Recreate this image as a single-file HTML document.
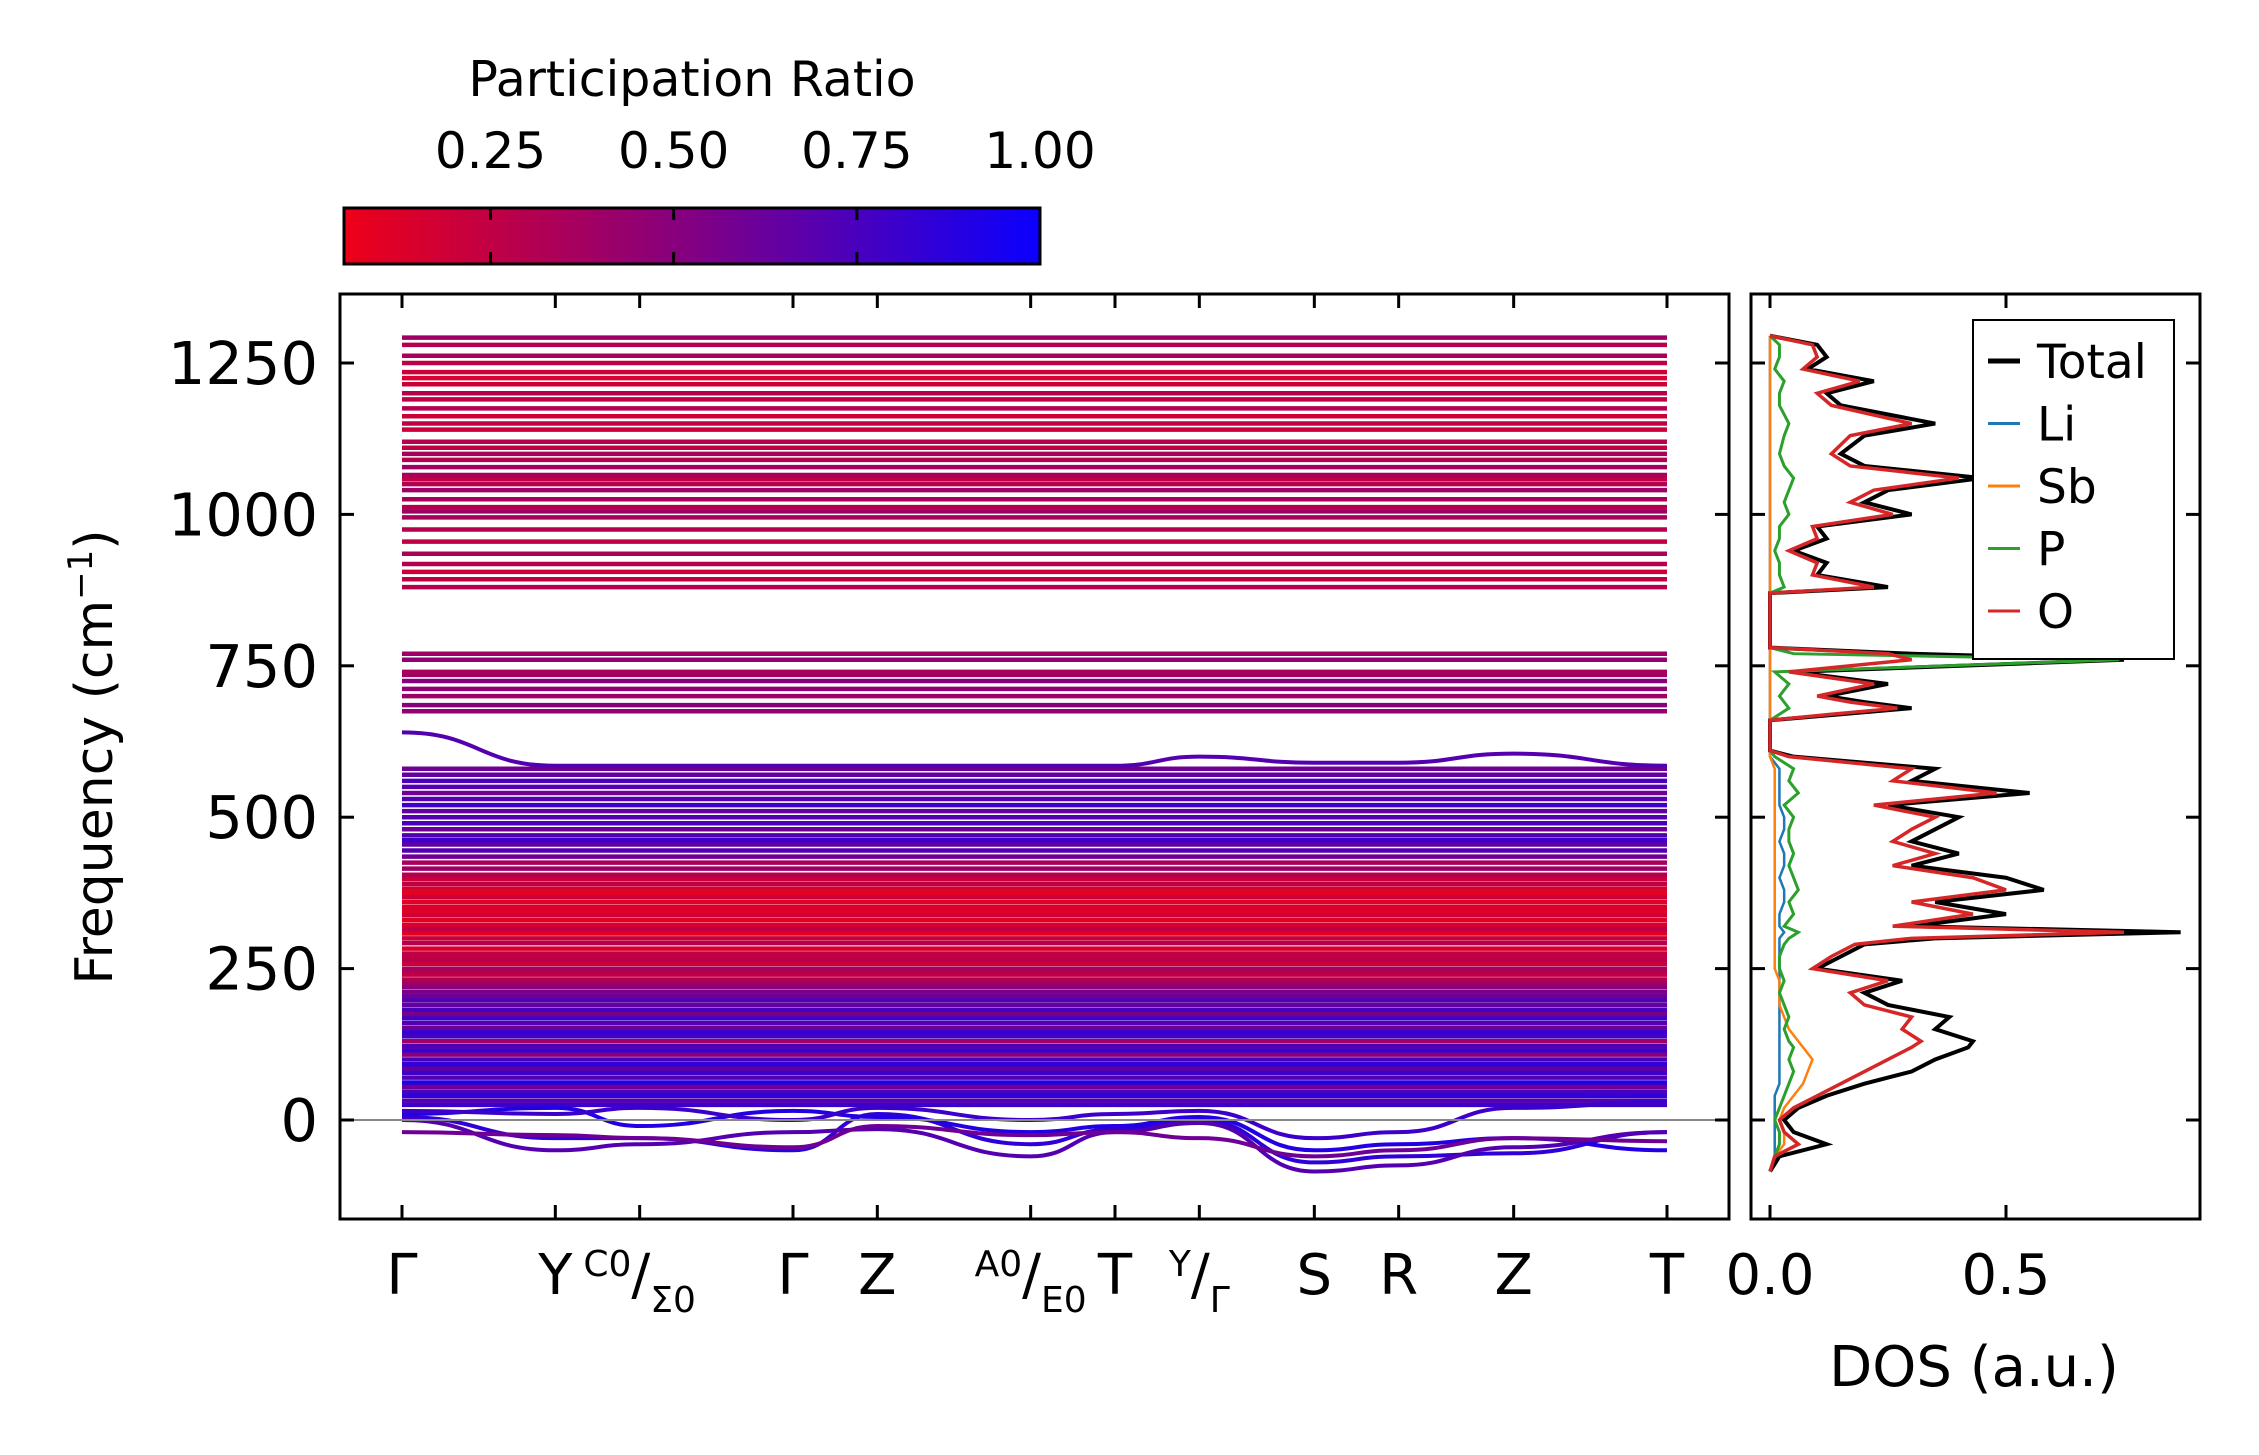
<!DOCTYPE html>
<html><head><meta charset="utf-8"><style>
html,body{margin:0;padding:0;background:#fff}
svg{display:block;font-family:"DejaVu Sans","Liberation Sans",sans-serif}
</style></head><body>
<svg id="fig" width="2259" height="1455" viewBox="0 0 2259 1455" xmlns="http://www.w3.org/2000/svg">
<defs>
<linearGradient id="cbar" x1="0" x2="1" y1="0" y2="0">
<stop offset="0" stop-color="rgb(238,0,24)"/><stop offset="0.5" stop-color="rgb(130,0,130)"/><stop offset="1" stop-color="rgb(10,0,255)"/>
</linearGradient>
<clipPath id="clipMain"><rect x="340" y="294" width="1389" height="925"/></clipPath>
<clipPath id="clipDos"><rect x="1751" y="294" width="449" height="925"/></clipPath>
</defs>
<g id="colorbar">
<text x="692" y="96" font-size="49" text-anchor="middle">Participation Ratio</text>
<rect x="344" y="208" width="696" height="56" fill="url(#cbar)" stroke="#000" stroke-width="3"/>
</g>
<g id="bands" clip-path="url(#clipMain)"></g>
<g id="mainAxes"></g>
<g id="dos" clip-path="url(#clipDos)"></g>
<g id="dosAxes"></g>
<text transform="translate(112,757) rotate(-90)" font-size="52" text-anchor="middle">Frequency (cm<tspan font-size="34" dy="-20">−1</tspan><tspan dy="20">)</tspan></text>
<text x="1974" y="1386" font-size="56" text-anchor="middle">DOS (a.u.)</text>
</svg>
<script>
// ---- data ----
const kLabels = ["Γ","Y","C0/Σ0","Γ","Z","A0/E0","T","Y/Γ","S","R","Z","T"];
const kPos = [0,1,1.55,2.55,3.1,4.1,4.65,5.2,5.95,6.5,7.25,8.25];
const yTicks = [0,250,500,750,1000,1250];
const cbTicks = [0.25,0.5,0.75,1.0];
const highLevels = [880,893,905,918,935,955,975,995,1005,1012,1025,1040,1050,1058,1065,1078,1090,1100,1110,1120,1140,1150,1162,1175,1190,1200,1215,1225,1235,1250,1262,1280,1292];
const highPR = [0.3,0.25,0.2,0.3,0.35,0.25,0.3,0.35,0.4,0.3,0.35,0.4,0.3,0.25,0.35,0.4,0.3,0.35,0.25,0.3,0.2,0.25,0.2,0.3,0.25,0.3,0.2,0.15,0.2,0.25,0.35,0.3,0.4];
const midLevels = [675,685,700,712,725,735,740,760,770];
const midPR = [0.45,0.5,0.4,0.45,0.5,0.4,0.35,0.45,0.4];
const lowLevels = [25,32,40,47,55,62,70,78,85,92,100,108,115,122,130,138,145,152,160,168,175,182,190,198,205,212,220,226,232,240,246,250,258,265,270,275,283,292,300,308,315,322,330,338,345,352,360,368,375,382,390,398,405,415,425,435,445,455,462,470,480,490,500,510,520,530,540,550,560,570,580];
const lowPR = [0.8,0.7,0.85,0.75,0.6,0.9,0.7,0.8,0.65,0.85,0.75,0.5,0.8,0.7,0.4,0.75,0.85,0.6,0.7,0.8,0.55,0.75,0.65,0.7,0.6,0.55,0.5,0.4,0.3,0.25,0.3,0.35,0.2,0.3,0.25,0.25,0.15,0.3,0.2,0.1,0.25,0.15,0.1,0.2,0.1,0.15,0.1,0.2,0.1,0.15,0.25,0.2,0.3,0.4,0.35,0.6,0.7,0.65,0.8,0.7,0.6,0.75,0.7,0.65,0.8,0.7,0.6,0.7,0.75,0.65,0.6];
const negCurves = [
 [5,-30,-30,-50,10,-40,-15,0,-70,-60,-55,-20],
 [10,20,-10,15,5,-20,-10,5,-50,-40,-30,-50],
 [0,-50,-40,-20,-15,-60,-20,-5,-85,-75,-45,-20],
 [15,10,20,0,20,0,10,15,-30,-20,20,30],
 [-20,-25,-30,-45,-10,-25,-20,-30,-60,-50,-30,-35],
 [640,585,585,585,585,585,585,600,590,590,605,585]
];
const negPR = [0.85,0.9,0.7,0.8,0.6,0.7];
const dosFreq = [-85,-60,-40,-20,0,20,40,60,80,100,120,130,150,170,190,210,230,250,270,290,300,310,320,340,360,380,400,420,440,460,480,500,520,540,560,580,600,610,660,670,680,690,700,720,740,760,770,780,870,880,900,920,940,960,980,1000,1020,1040,1060,1080,1100,1130,1150,1180,1200,1220,1240,1260,1280,1295];
const dosTotal = [0,0.02,0.12,0.05,0.03,0.06,0.12,0.2,0.3,0.35,0.42,0.43,0.35,0.38,0.25,0.2,0.28,0.1,0.15,0.2,0.35,0.87,0.3,0.5,0.35,0.58,0.5,0.3,0.4,0.3,0.35,0.4,0.25,0.55,0.3,0.35,0.05,0,0,0.15,0.3,0.2,0.12,0.25,0.05,0.75,0.3,0,0,0.25,0.1,0.12,0.05,0.12,0.1,0.3,0.2,0.25,0.45,0.2,0.15,0.2,0.35,0.15,0.12,0.22,0.08,0.12,0.1,0];
const dosO = [0,0.01,0.06,0.03,0.02,0.05,0.1,0.15,0.2,0.25,0.3,0.32,0.28,0.3,0.2,0.17,0.25,0.09,0.13,0.18,0.3,0.75,0.26,0.43,0.3,0.5,0.43,0.26,0.35,0.26,0.3,0.35,0.22,0.48,0.26,0.3,0.04,0,0,0.13,0.27,0.17,0.1,0.22,0.04,0.3,0.25,0,0,0.22,0.09,0.1,0.04,0.1,0.09,0.26,0.17,0.22,0.4,0.17,0.13,0.17,0.3,0.13,0.1,0.19,0.07,0.1,0.09,0];
const dosP = [0,0.01,0.02,0.02,0.01,0.02,0.03,0.04,0.05,0.04,0.05,0.04,0.03,0.04,0.03,0.02,0.03,0.02,0.02,0.03,0.04,0.06,0.03,0.05,0.04,0.06,0.05,0.04,0.05,0.04,0.04,0.05,0.03,0.06,0.04,0.05,0.01,0,0,0.02,0.04,0.03,0.02,0.04,0.01,0.74,0.05,0,0,0.03,0.02,0.02,0.01,0.02,0.02,0.04,0.03,0.04,0.05,0.03,0.02,0.03,0.04,0.02,0.02,0.03,0.01,0.02,0.02,0];
const dosSb = [0,0.01,0.03,0.03,0.02,0.03,0.05,0.07,0.08,0.09,0.07,0.06,0.04,0.03,0.02,0.02,0.02,0.01,0.01,0.01,0.01,0.01,0.01,0.01,0.01,0.01,0.01,0.01,0.01,0.01,0.01,0.01,0.01,0.01,0.01,0.01,0,0,0,0,0,0,0,0,0,0,0,0,0,0,0,0,0,0,0,0,0,0,0,0,0,0,0,0,0,0,0,0,0,0];
const dosLi = [0,0.01,0.01,0.01,0.01,0.01,0.01,0.02,0.02,0.02,0.02,0.02,0.02,0.02,0.02,0.02,0.02,0.02,0.02,0.02,0.02,0.03,0.02,0.02,0.03,0.03,0.02,0.03,0.03,0.02,0.03,0.03,0.02,0.02,0.02,0.02,0,0,0,0,0,0,0,0,0,0,0,0,0,0,0,0,0,0,0,0,0,0,0,0,0,0,0,0,0,0,0,0,0,0];
const legendNames = ["Total","Li","Sb","P","O"];

// ---- scales ----
const NS="http://www.w3.org/2000/svg";
const X0=402,X1=1667, Y_TOP=294, Y_BOT=1219, AX_L=340, AX_R=1729;
const D_L=1751, D_R=2200;
function xk(k){return X0+(k/kPos[kPos.length-1])*(X1-X0);}
function yf(f){return 1120-f*0.6056;}
function xd(d){return 1770+d*472;}
function prColor(p){
  const t=Math.max(0,Math.min(1,(p-0.05)/0.95));
  let r,g,b;
  if(t<0.5){const s=t/0.5;r=238+(130-238)*s;g=0;b=24+(130-24)*s;}
  else{const s=(t-0.5)/0.5;r=130+(10-130)*s;g=0;b=130+(255-130)*s;}
  return `rgb(${r|0},${g|0},${b|0})`;
}
function el(tag,attrs,parent){const e=document.createElementNS(NS,tag);for(const k in attrs)e.setAttribute(k,attrs[k]);parent.appendChild(e);return e;}

const bands=document.getElementById('bands');
function flatBand(level,pr){
  const l=el('line',{x1:X0,x2:X1,y1:yf(level),y2:yf(level),stroke:prColor(pr),'stroke-width':4.5},bands);
  
  
}
highLevels.forEach((v,i)=>flatBand(v,highPR[i]));
midLevels.forEach((v,i)=>flatBand(v,midPR[i]));
lowLevels.forEach((v,i)=>flatBand(v,lowPR[i]));
negCurves.forEach((c,i)=>{
  let d='';
  for(let j=0;j<c.length;j++){
    const x=xk(kPos[j]),y=yf(c[j]);
    if(j===0)d+=`M${x},${y}`;
    else{const xp=xk(kPos[j-1]),yp=yf(c[j-1]);const mx=(xp+x)/2;d+=` C${mx},${yp} ${mx},${y} ${x},${y}`;}
  }
  const p=el('path',{d:d,fill:'none',stroke:prColor(negPR[i]),'stroke-width':4},bands);
  
  
});
const ma=document.getElementById('mainAxes');
const zl=el('line',{x1:AX_L,x2:AX_R,y1:yf(0),y2:yf(0),stroke:'#888','stroke-width':2},ma);



const frame=el('rect',{x:AX_L,y:Y_TOP,width:AX_R-AX_L,height:Y_BOT-Y_TOP,fill:'none',stroke:'#000','stroke-width':3},ma);


yTicks.forEach(v=>{
  const y=yf(v);
  el('line',{x1:AX_L,x2:AX_L+14,y1:y,y2:y,stroke:'#000','stroke-width':3},ma);
  el('line',{x1:AX_R,x2:AX_R-14,y1:y,y2:y,stroke:'#000','stroke-width':3},ma);
  const t=el('text',{x:AX_L-22,y:y+21,'font-size':59,'text-anchor':'end'},ma);
  t.textContent=v;
  
  
});
kPos.forEach((k,i)=>{
  const x=xk(k);
  el('line',{x1:x,x2:x,y1:Y_BOT,y2:Y_BOT-14,stroke:'#000','stroke-width':3},ma);
  el('line',{x1:x,x2:x,y1:Y_TOP,y2:Y_TOP+14,stroke:'#000','stroke-width':3},ma);
  const lab=kLabels[i];
  const t=el('text',{x:x,y:1294,'font-size':56,'text-anchor':'middle'},ma);
  
  
  if(lab.includes('/')){
    const [a,b]=lab.split('/');
    const s1=document.createElementNS(NS,'tspan');s1.setAttribute('font-size','36');s1.setAttribute('dy','-18');s1.textContent=a;
    const s2=document.createElementNS(NS,'tspan');s2.setAttribute('dy','18');s2.textContent='/';
    const s3=document.createElementNS(NS,'tspan');s3.setAttribute('font-size','36');s3.setAttribute('dy','18');s3.textContent=b;
    t.appendChild(s1);t.appendChild(s2);t.appendChild(s3);
  } else t.textContent=lab;
});

const cb=document.getElementById('colorbar');
cbTicks.forEach(v=>{
  const x=344+(v-0.05)/0.95*696;
  el('line',{x1:x,x2:x,y1:208,y2:220,stroke:'#000','stroke-width':3},cb);
  el('line',{x1:x,x2:x,y1:264,y2:252,stroke:'#000','stroke-width':3},cb);
  const t=el('text',{x:x,y:168,'font-size':50,'text-anchor':'middle'},cb);
  t.textContent=v.toFixed(2);
  
  
});

const dg=document.getElementById('dos');
function dosLine(vals,color,w,name){
  const pts=dosFreq.map((f,i)=>`${xd(vals[i])},${yf(f)}`).join(' ');
  const p=el('polyline',{points:pts,fill:'none',stroke:color,'stroke-width':w},dg);
  
  
}
dosLine(dosTotal,'#000',4,'dos-total-line');
dosLine(dosLi,'#1f77b4',2.5,'dos-li-line');
dosLine(dosSb,'#ff7f0e',2.5,'dos-sb-line');
dosLine(dosP,'#2ca02c',3,'dos-p-line');
dosLine(dosO,'#d62728',3.5,'dos-o-line');
const da=document.getElementById('dosAxes');
const df=el('rect',{x:D_L,y:Y_TOP,width:D_R-D_L,height:Y_BOT-Y_TOP,fill:'none',stroke:'#000','stroke-width':3},da);


yTicks.forEach(v=>{
  const y=yf(v);
  el('line',{x1:D_L,x2:D_L+14,y1:y,y2:y,stroke:'#000','stroke-width':3},da);
  el('line',{x1:D_R,x2:D_R-14,y1:y,y2:y,stroke:'#000','stroke-width':3},da);
});
[0,0.5].forEach(v=>{
  const x=xd(v);
  el('line',{x1:x,x2:x,y1:Y_BOT,y2:Y_BOT-14,stroke:'#000','stroke-width':3},da);
  el('line',{x1:x,x2:x,y1:Y_TOP,y2:Y_TOP+14,stroke:'#000','stroke-width':3},da);
  const t=el('text',{x:x,y:1294,'font-size':56,'text-anchor':'middle'},da);
  t.textContent=v.toFixed(1);
  
  
});
const lg=el('g',{},da);


el('rect',{x:1973,y:320,width:201,height:339,fill:'#fff',stroke:'#000','stroke-width':2},lg);
const lc=['#000','#1f77b4','#ff7f0e','#2ca02c','#d62728'];
legendNames.forEach((n,i)=>{
  const y=361+i*62.5;
  el('line',{x1:1988,x2:2020,y1:y,y2:y,stroke:lc[i],'stroke-width':i===0?5:3},lg);
  const t=el('text',{x:2037,y:y+17,'font-size':47},lg);
  t.textContent=n;
  
  
});
</script>
</body></html>
